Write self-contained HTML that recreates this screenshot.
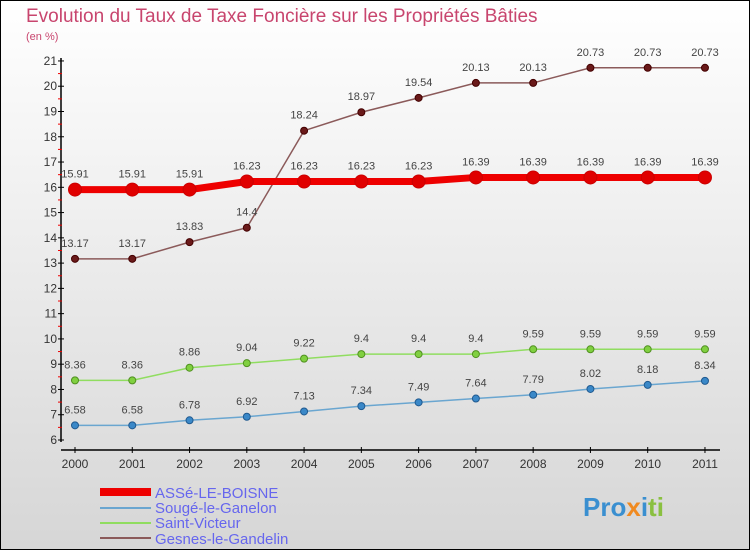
<!DOCTYPE html>
<html><head><meta charset="utf-8"><style>
body{margin:0}
svg text{font-family:"Liberation Sans",sans-serif}
</style></head><body>
<svg width="750" height="550" xmlns="http://www.w3.org/2000/svg" id="c">
<defs><linearGradient id="bg" x1="0" y1="0" x2="0" y2="1"><stop offset="0" stop-color="#ffffff"/><stop offset="1" stop-color="#d6d6d6"/></linearGradient></defs>
<rect x="0.5" y="0.5" width="749" height="549" fill="url(#bg)" stroke="#000"/>
<text x="26" y="22" font-size="19" fill="#c8456e">Evolution du Taux de Taxe Foncière sur les Propriétés Bâties</text>
<text x="26" y="40" font-size="11" fill="#c8456e">(en %)</text>
<g id="axes"></g><g id="series"></g>
<g font-size="15" fill="#6666ee">
<rect x="100" y="488" width="51" height="8" fill="#ee0000"/><text x="155" y="498">ASSé-LE-BOISNE</text>
<rect x="100" y="507" width="51" height="2" fill="#6aa6d0"/><text x="155" y="513">Sougé-le-Ganelon</text>
<rect x="100" y="522" width="51" height="2" fill="#90dd60"/><text x="155" y="528">Saint-Victeur</text>
<rect x="100" y="537" width="51" height="2" fill="#8b5a5a"/><text x="155" y="544">Gesnes-le-Gandelin</text>
</g>
<g font-size="26" font-weight="bold"><text x="583" y="516" fill="#3a8fd0">Pro<tspan fill="#f08a20">x</tspan><tspan fill="#3a8fd0">i</tspan><tspan fill="#8ac040">ti</tspan></text></g>
</svg>
<script>
const years=[2000,2001,2002,2003,2004,2005,2006,2007,2008,2009,2010,2011];
const asse=[15.91,15.91,15.91,16.23,16.23,16.23,16.23,16.39,16.39,16.39,16.39,16.39];
const souge=[6.58,6.58,6.78,6.92,7.13,7.34,7.49,7.64,7.79,8.02,8.18,8.34];
const victeur=[8.36,8.36,8.86,9.04,9.22,9.4,9.4,9.4,9.59,9.59,9.59,9.59];
const gesnes=[13.17,13.17,13.83,14.4,18.24,18.97,19.54,20.13,20.13,20.73,20.73,20.73];
const yTicks=[6,7,8,9,10,11,12,13,14,15,16,17,18,19,20,21];
const NS="http://www.w3.org/2000/svg";
const X=i=>75+i*57.27, Y=v=>440-(v-6)*25.27;
function mk(t,a,p){const e=document.createElementNS(NS,t);for(const k in a)e.setAttribute(k,a[k]);p.appendChild(e);return e;}
const ax=document.getElementById('axes');
let l=mk('line',{x1:61,y1:58,x2:61,y2:442,stroke:'#000','stroke-width':1.5},ax);

l=mk('line',{x1:61,y1:450,x2:720,y2:450,stroke:'#000','stroke-width':1.5},ax);

yTicks.forEach(v=>{mk('line',{x1:58,y1:Y(v),x2:64,y2:Y(v),stroke:'#000'},ax);
 if(v<21)mk('line',{x1:58,y1:Y(v+0.5),x2:62,y2:Y(v+0.5),stroke:'#e00'},ax);
 const t=mk('text',{x:57,y:Y(v)+4,'font-size':12,'text-anchor':'end',fill:'#333'},ax);t.textContent=v;
 });
years.forEach((yr,i)=>{mk('line',{x1:X(i),y1:447,x2:X(i),y2:453,stroke:'#000'},ax);
 const t=mk('text',{x:X(i),y:468,'font-size':12,'text-anchor':'middle',fill:'#333'},ax);t.textContent=yr;
 });
const sg=document.getElementById('series');
function series(name,vals,col,lw,r,dot,stroke){
 const g=mk('g',{},sg);
 mk('polyline',{points:vals.map((v,i)=>X(i)+','+Y(v)).join(' '),fill:'none',stroke:col,'stroke-width':lw},g);
 vals.forEach((v,i)=>{const c=mk('circle',{cx:X(i),cy:Y(v),r:r,fill:dot,stroke:stroke,'stroke-width':1},g);
  
  const t=mk('text',{x:X(i),y:Y(v)-12,'font-size':11,'text-anchor':'middle',fill:'#444'},g);t.textContent=v;});
}
series('gesnes-line',gesnes,'#8b5a5a',1.5,3.5,'#6a1a1a','#400');
series('victeur-line',victeur,'#90dd60',1.5,3.5,'#80d040','#509020');
series('souge-line',souge,'#6aa6d0',1.5,3.5,'#3a88c8','#205a90');
series('asse-line',asse,'#ee0000',7,6.5,'#e00000','#c00');
</script>
</body></html>
